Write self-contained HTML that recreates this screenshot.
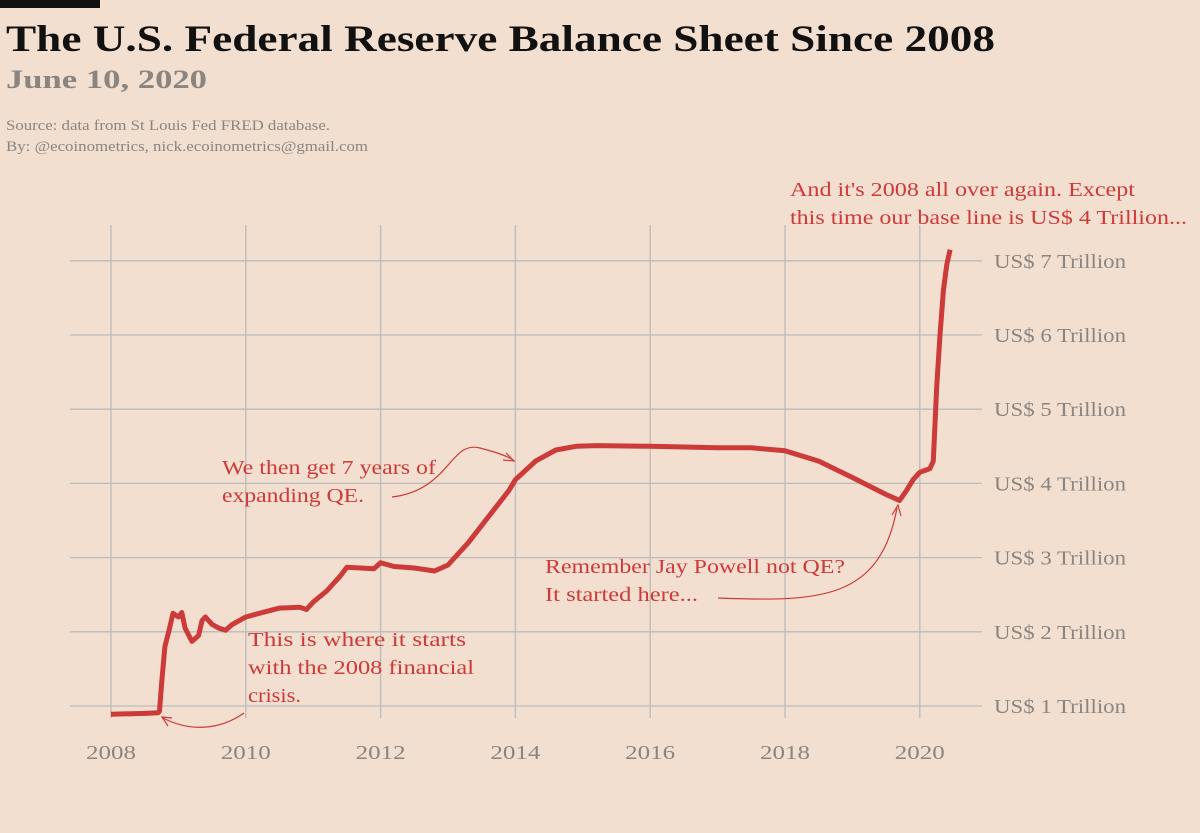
<!DOCTYPE html>
<html><head><meta charset="utf-8">
<style>
body{margin:0;background:#f3dfcf;width:1200px;height:833px;overflow:hidden;font-family:"Liberation Serif",serif;}
svg{position:absolute;left:0;top:0}
</style></head>
<body>
<svg width="1200" height="833">
<rect x="0" y="0" width="100" height="8" fill="#111"/>
<text x="6" y="51" font-size="37" font-weight="bold" fill="#111" textLength="989" lengthAdjust="spacingAndGlyphs">The U.S. Federal Reserve Balance Sheet Since 2008</text>
<text x="6" y="88" font-size="26" font-weight="bold" fill="#8a8580" textLength="201" lengthAdjust="spacingAndGlyphs">June 10, 2020</text>
<text x="6" y="130" font-size="15" fill="#8a8580" textLength="324" lengthAdjust="spacingAndGlyphs">Source: data from  St Louis Fed FRED database.</text>
<text x="6" y="151" font-size="15" fill="#8a8580" textLength="362" lengthAdjust="spacingAndGlyphs">By: @ecoinometrics, nick.ecoinometrics@gmail.com</text>
<g id="grid"></g><g id="ticks"></g>
<path id="line" fill="none" stroke="#cc3a3a" stroke-width="5" stroke-linejoin="round"/>
<g fill="#cc3a3a" font-size="20" lengthAdjust="spacingAndGlyphs">
<text x="790" y="196" textLength="345" lengthAdjust="spacingAndGlyphs">And it's 2008 all over again. Except</text>
<text x="790" y="224" textLength="397" lengthAdjust="spacingAndGlyphs">this time our base line is US$ 4 Trillion...</text>
<text x="222" y="474" textLength="214" lengthAdjust="spacingAndGlyphs">We then get 7 years of</text>
<text x="222" y="502" textLength="142" lengthAdjust="spacingAndGlyphs">expanding QE.</text>
<text x="545" y="573" textLength="300" lengthAdjust="spacingAndGlyphs">Remember Jay Powell not QE?</text>
<text x="545" y="601" textLength="153" lengthAdjust="spacingAndGlyphs">It started here...</text>
<text x="248" y="646" textLength="218" lengthAdjust="spacingAndGlyphs">This is where it starts</text>
<text x="248" y="674" textLength="226" lengthAdjust="spacingAndGlyphs">with the 2008 financial</text>
<text x="248" y="702" textLength="53" lengthAdjust="spacingAndGlyphs">crisis.</text>
</g>
<g fill="none" stroke="#cc3a3a" stroke-width="1.2">
<path d="M392,497 C450,490 450,440 480,448 C495,452 505,455 513,460"/>
<path d="M506,453 L514,461 L503,460"/>
<path d="M718,598 C820,602 880,600 897,508"/>
<path d="M892,515 L898,505 L901,516"/>
<path d="M244,713 C220,730 190,732 163,718"/>
<path d="M172,718 L162,717 L168,726"/>
</g>
</svg>
<script>
const years=[2008,2008.5,2008.7,2008.72,2008.75,2008.8,2008.87,2008.92,2009,2009.05,2009.1,2009.2,2009.3,2009.35,2009.4,2009.5,2009.6,2009.7,2009.8,2009.9,2010,2010.2,2010.5,2010.8,2010.9,2011,2011.2,2011.4,2011.5,2011.7,2011.9,2012,2012.2,2012.5,2012.8,2013,2013.3,2013.6,2013.9,2014,2014.3,2014.6,2014.9,2015.2,2016,2017,2017.5,2018,2018.5,2019,2019.5,2019.7,2019.8,2019.9,2020,2020.15,2020.2,2020.25,2020.3,2020.35,2020.4,2020.45];
const values=[0.89,0.9,0.91,0.93,1.3,1.8,2.05,2.25,2.2,2.26,2.05,1.87,1.95,2.15,2.2,2.1,2.05,2.02,2.1,2.15,2.2,2.25,2.32,2.33,2.3,2.4,2.55,2.75,2.87,2.86,2.85,2.93,2.88,2.86,2.82,2.9,3.2,3.55,3.9,4.05,4.3,4.45,4.5,4.51,4.5,4.48,4.48,4.44,4.3,4.08,3.85,3.77,3.9,4.05,4.15,4.2,4.3,5.3,6.0,6.6,6.95,7.15];
const xTicks=[2008,2010,2012,2014,2016,2018,2020];
const yTicks=[1,2,3,4,5,6,7];
const yLabels=["US$ 1 Trillion","US$ 2 Trillion","US$ 3 Trillion","US$ 4 Trillion","US$ 5 Trillion","US$ 6 Trillion","US$ 7 Trillion"];
const X=y=>111+(y-2008)*67.4;
const Y=v=>706-(v-1)*74.2;
const NS="http://www.w3.org/2000/svg";
const grid=document.getElementById('grid'),ticks=document.getElementById('ticks');
function mk(tag,attrs,parent){const e=document.createElementNS(NS,tag);for(const k in attrs)e.setAttribute(k,attrs[k]);parent.appendChild(e);return e;}
xTicks.forEach(t=>{
  const l=mk('line',{x1:X(t),x2:X(t),y1:225,y2:718,stroke:'#bbb','stroke-width':1.3},grid);
  
  
  const tx=mk('text',{x:X(t)-25,y:759,'font-size':20,fill:'#8a8580',textLength:50,lengthAdjust:'spacingAndGlyphs'},ticks);
  tx.textContent=t;
  
  
});
yTicks.forEach((t,i)=>{
  const l=mk('line',{x1:70,x2:982,y1:Y(t),y2:Y(t),stroke:'#bbb','stroke-width':1.3},grid);
  
  
  const tx=mk('text',{x:994,y:Y(t)+7,'font-size':20,fill:'#8a8580',textLength:132,lengthAdjust:'spacingAndGlyphs'},ticks);
  tx.textContent=yLabels[i];
  
  
});
document.getElementById('line').setAttribute('d',years.map((y,i)=>(i?'L':'M')+X(y).toFixed(1)+','+Y(values[i]).toFixed(1)).join(' '));
</script>
</body></html>
